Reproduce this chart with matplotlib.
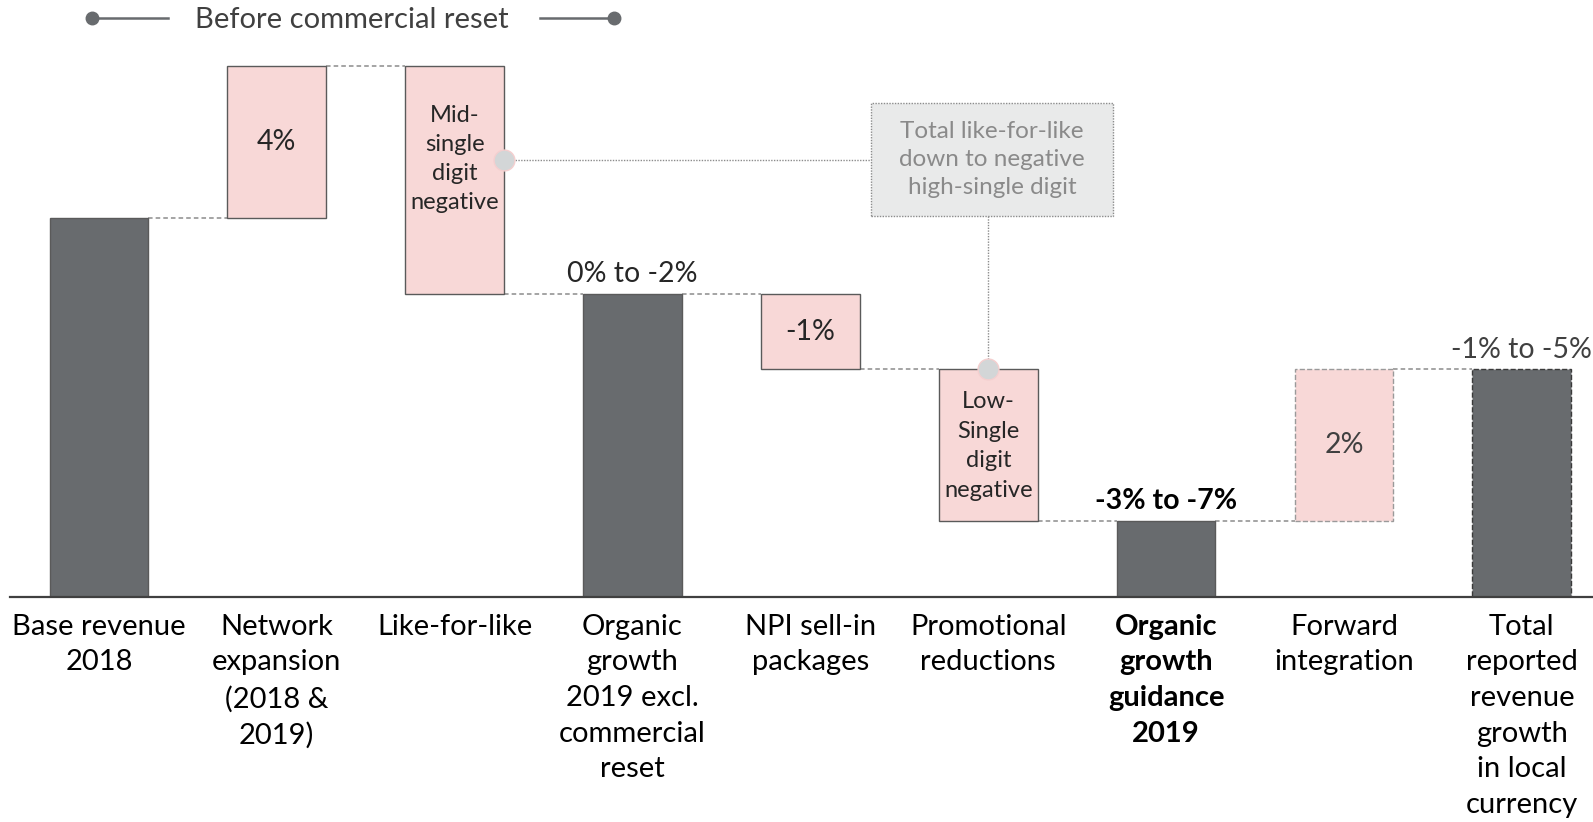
import matplotlib
matplotlib.use("Agg")
import matplotlib.pyplot as plt
from matplotlib.patches import Rectangle
from matplotlib.lines import Line2D

plt.rcParams['font.family'] = ['Lato', 'DejaVu Sans']

# data (schematic units)
categories = ["Base revenue\n2018", "Network\nexpansion\n(2018 &\n2019)", "Like-for-like",
              "Organic\ngrowth\n2019 excl.\ncommercial\nreset", "NPI sell-in\npackages",
              "Promotional\nreductions", "Organic\ngrowth\nguidance\n2019", "Forward\nintegration",
              "Total\nreported\nrevenue\ngrowth\nin local\ncurrency"]
bottoms = [0, 10, 8, 0, 6, 2, 0, 2, 0]
tops = [10, 14, 14, 8, 8, 6, 2, 6, 6]
kinds = ["total", "step", "step", "total", "step", "step", "total", "step", "total"]
labels = ["", "4%", "Mid-\nsingle\ndigit\nnegative", "0% to -2%", "-1%",
          "Low-\nSingle\ndigit\nnegative", "-3% to -7%", "2%", "-1% to -5%"]

dark = "#686b6e"
pink = "#f8d8d7"
edge = "#5a5a5a"
txt = "#262626"
w = 0.555
fs_val = 20.5
fs_small = 17

fig = plt.figure(figsize=(15.93, 8.22), dpi=100)
ax = fig.add_axes([10/1593, 0.2737, 1 - 10/1593, 0.692])
ax.set_xlim(-0.5, 8.4)
ax.set_ylim(0, 15)

for i in range(len(categories)):
    fc = dark if kinds[i] == "total" else pink
    ls = "--" if i >= 7 else "-"
    ec = "#9a9a9a" if i == 7 else ("#3a3a3a" if i == 8 else edge)
    ax.bar(i, tops[i] - bottoms[i], bottom=bottoms[i], width=w, color=fc,
           edgecolor=ec, linewidth=1.0, linestyle=ls, zorder=2)

# connectors between bars
conn = [10, 14, 8, 8, 6, 2, 2, 6]
for i, y in enumerate(conn):
    ax.plot([i + w/2, i + 1 - w/2], [y, y], color="#8c8c8c", lw=1.1,
            ls=(0, (3, 2)), zorder=1)

# value labels
ax.text(1, 12, labels[1], ha="center", va="center", fontsize=fs_val, color=txt)
ax.text(2, 11.56, labels[2], ha="center", va="center", fontsize=fs_small, color=txt, linespacing=1.47)
ax.annotate(labels[3], (3, 8), xytext=(0, 5), textcoords="offset points",
            ha="center", va="bottom", fontsize=fs_val, color=txt)
ax.text(4, 7, labels[4], ha="center", va="center", fontsize=fs_val, color=txt)
ax.text(5, 3.98, labels[5], ha="center", va="center", fontsize=fs_small, color=txt, linespacing=1.5)
ax.annotate(labels[6], (6, 2), xytext=(0, 5), textcoords="offset points",
            ha="center", va="bottom", fontsize=fs_val, color="black", fontweight="bold")
ax.text(7, 4, labels[7], ha="center", va="center", fontsize=fs_val, color="#404040")
ax.annotate(labels[8], (8, 6), xytext=(0, 5), textcoords="offset points",
            ha="center", va="bottom", fontsize=fs_val, color="#404040")

# callout box
box_x0, box_x1, box_y0, box_y1 = 4.34, 5.70, 10.05, 13.02
ax.add_patch(Rectangle((box_x0, box_y0), box_x1 - box_x0, box_y1 - box_y0,
                       facecolor="#e9eaea", edgecolor="#8c8c8c", lw=1, ls=(0, (1, 1)), zorder=3))
ax.text((box_x0 + box_x1) / 2, (box_y0 + box_y1) / 2,
        "Total like-for-like\ndown to negative\nhigh-single digit",
        ha="center", va="center", fontsize=17.5, color="#8a8a8a", linespacing=1.4, zorder=4)
ax.plot([2 + w/2, box_x0], [11.52, 11.52], color="#8c8c8c", lw=1, ls=(0, (1, 1)), zorder=3)
ax.plot([5.0, 5.0], [box_y0, 6], color="#8c8c8c", lw=1, ls=(0, (1, 1)), zorder=3)
ax.plot([2 + w/2, 5.0], [11.52, 6], "o", ms=15, color="#d3d6d7",
        markeredgecolor="#f4cfcf", markeredgewidth=1, zorder=5, clip_on=False)

# axis styling
for s in ["top", "right", "left"]:
    ax.spines[s].set_visible(False)
ax.spines["bottom"].set_color("#404040")
ax.spines["bottom"].set_linewidth(1.6)
ax.set_yticks([])
ax.set_xticks(range(len(categories)))
ax.set_xticklabels(categories, fontsize=21, color="black", linespacing=1.46)
ax.tick_params(axis="x", length=0, pad=12)
ax.get_xticklabels()[6].set_fontweight("bold")

# header "Before commercial reset"
fig.text(352/1593, 1 - 19.5/822, "Before commercial reset", ha="center", va="center",
         fontsize=21, color="#404040")
fig.add_artist(Line2D([92/1593, 168/1593], [1 - 18/822] * 2, color="#686b6e", lw=1.8))
fig.add_artist(Line2D([540/1593, 614/1593], [1 - 18/822] * 2, color="#686b6e", lw=1.8))
fig.add_artist(Line2D([92/1593, 614/1593], [1 - 18/822] * 2, ls="none", marker="o",
                      ms=9, color="#686b6e"))

fig.savefig("out.png", dpi=100)
